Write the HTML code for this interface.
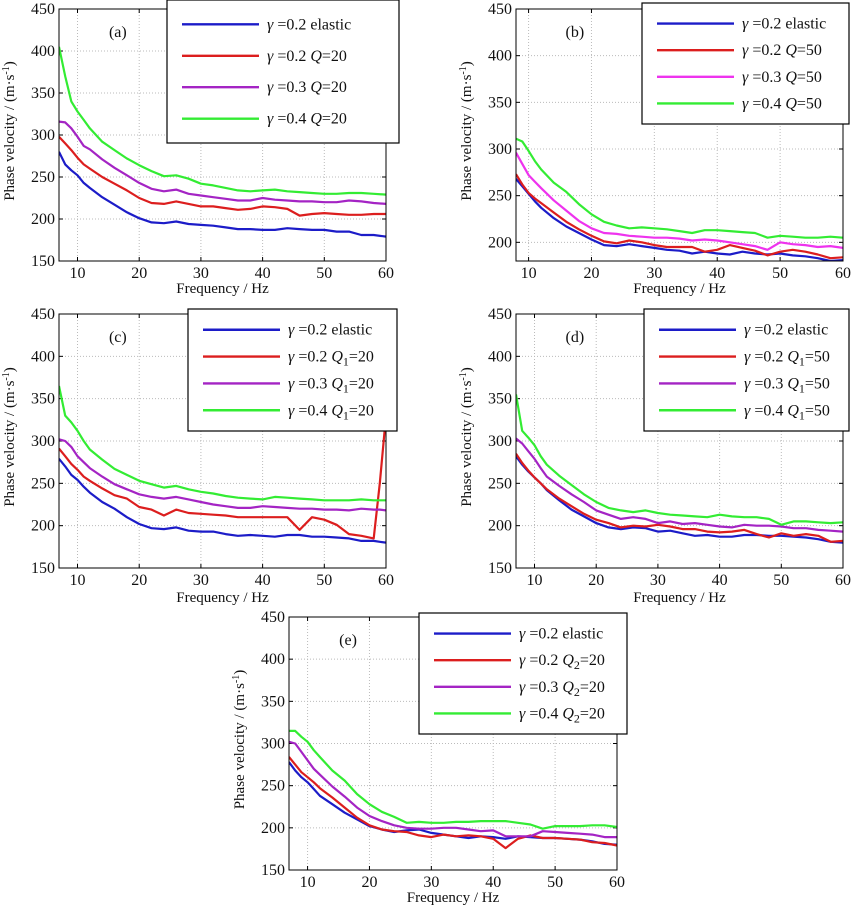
<!DOCTYPE html>
<html><head><meta charset="utf-8">
<style>
body{margin:0;background:#fff;width:854px;height:906px;overflow:hidden}
svg{display:block}
text{font-family:"Liberation Serif",serif;fill:#111}
</style></head>
<body>
<svg id="fig" width="854" height="906" xmlns="http://www.w3.org/2000/svg"></svg>
<script>
const NS="http://www.w3.org/2000/svg";
const freqA=[7,8,9,10,11,12,14,16,18,20,22,24,26,28,30,32,34,36,38,40,42,44,46,48,50,52,54,56,58,60];
const freqB=[8,9,10,11,12,14,16,18,20,22,24,26,28,30,32,34,36,38,40,42,44,46,48,50,52,54,56,58,60];
const freqC=[7,8,9,10,11,12,14,16,18,20,22,24,26,28,30,32,34,36,38,40,42,44,46,48,50,52,54,56,58,59,60];
const yTicksFull=[150,200,250,300,350,400,450];
const yTicksB=[200,250,300,350,400,450];
const xTicks=[10,20,30,40,50,60];
// panel a
const aElastic=[280,265,258,252,243,237,226,217,208,201,196,195,197,194,193,192,190,188,188,187,187,189,188,187,187,185,185,181,181,179];
const aQ20g2=[298,290,282,273,265,260,250,242,234,225,219,218,221,218,215,215,213,211,212,215,214,212,204,206,207,206,205,205,206,206];
const aQ20g3=[316,315,308,298,287,283,271,261,252,243,236,233,235,230,228,226,224,222,222,225,223,222,221,221,220,220,222,221,219,218];
const aQ20g4=[405,370,340,328,318,308,292,282,272,264,257,251,252,248,242,240,237,234,233,234,235,233,232,231,230,230,231,231,230,229];
// panel b
const bElastic=[268,260,252,244,237,226,217,210,203,197,196,198,196,194,192,191,188,190,188,187,190,188,187,188,186,185,183,180,181];
const bQ50g2=[273,262,253,247,242,232,222,214,207,201,199,202,200,197,195,195,195,190,192,197,194,191,186,190,192,190,187,183,184];
const bQ50g3=[296,284,272,265,258,245,234,223,215,210,209,207,206,205,205,204,202,203,202,200,198,196,192,200,198,197,195,196,194];
const bQ50g4=[311,308,298,287,278,264,254,241,230,222,218,215,216,215,214,212,210,213,213,212,211,210,205,207,206,205,205,206,205];
// panel c
const cElastic=[279,270,260,254,246,239,228,220,210,202,197,196,198,194,193,193,190,188,189,188,187,189,189,187,187,186,185,182,182,181,180];
const cQ20g2=[291,282,273,266,258,253,244,236,232,222,219,212,219,215,214,213,212,210,210,210,210,210,195,210,207,201,190,188,185,250,330];
const cQ20g3=[302,300,293,282,275,268,258,249,243,237,234,232,234,231,228,225,223,221,221,223,222,221,220,220,219,219,218,220,219,219,218];
const cQ20g4=[365,330,322,312,300,290,278,267,260,253,249,245,247,243,240,238,235,233,232,231,234,233,232,231,230,230,230,231,230,230,230];
// panel d
const dElastic=[282,272,264,257,250,242,230,219,211,203,198,196,198,197,193,194,191,188,189,187,187,189,189,188,188,187,186,184,181,180];
const dQ50g2=[285,274,265,257,250,243,232,223,214,207,203,198,200,199,201,199,196,196,193,192,193,195,190,186,191,188,190,188,181,182];
const dQ50g3=[303,297,288,279,268,258,247,237,228,218,213,208,210,208,203,205,202,203,201,199,198,201,200,200,199,197,197,195,194,193];
const dQ50g4=[355,312,304,295,282,272,259,248,237,228,221,218,216,218,215,213,212,211,210,213,211,210,210,208,201,205,205,204,203,204];
// panel e
const eElastic=[278,268,260,254,246,238,228,218,210,202,198,195,197,198,194,192,190,188,190,189,187,190,189,188,188,187,186,184,181,180];
const eQ20g2=[284,275,266,260,254,247,236,224,212,203,198,196,195,191,189,192,190,191,190,187,176,187,191,188,188,187,186,183,182,179];
const eQ20g3=[302,300,290,280,270,263,249,237,224,214,208,203,200,199,199,200,200,198,196,197,190,190,190,196,195,194,193,192,189,189];
const eQ20g4=[315,315,308,302,292,284,268,256,240,228,219,213,206,207,206,206,207,207,208,208,208,206,204,199,202,202,202,203,203,201];

const BLUE="#1c1cc8",RED="#dc1e1e",PUR="#a424c4",MAG="#ee33ee",GRN="#33ec33";
const panels=[
 {id:"a",L:59,R:386,T:9,B:261,xmin:7,ymin:150,yt:yTicksFull,freq:freqA,xlab:293,
  series:[aElastic,aQ20g2,aQ20g3,aQ20g4],cols:[BLUE,RED,PUR,GRN],
  leg:{x:167,y:0,w:232,h:143},labels:[["0.2 elastic"],["0.2 ","Q","","=20"],["0.3 ","Q","","=20"],["0.4 ","Q","","=20"]]},
 {id:"b",L:516,R:843,T:9,B:261,xmin:8,ymin:180,yt:yTicksB,freq:freqB,xlab:293,
  series:[bElastic,bQ50g2,bQ50g3,bQ50g4],cols:[BLUE,RED,MAG,GRN],
  leg:{x:642,y:3,w:207,h:121},labels:[["0.2 elastic"],["0.2 ","Q","","=50"],["0.3 ","Q","","=50"],["0.4 ","Q","","=50"]]},
 {id:"c",L:59,R:386,T:314,B:568,xmin:7,ymin:150,yt:yTicksFull,freq:freqC,xlab:602,
  series:[cElastic,cQ20g2,cQ20g3,cQ20g4],cols:[BLUE,RED,PUR,GRN],
  leg:{x:188,y:309,w:209,h:122},labels:[["0.2 elastic"],["0.2 ","Q","1","=20"],["0.3 ","Q","1","=20"],["0.4 ","Q","1","=20"]]},
 {id:"d",L:516,R:843,T:314,B:568,xmin:7,ymin:150,yt:yTicksFull,freq:freqA,xlab:602,
  series:[dElastic,dQ50g2,dQ50g3,dQ50g4],cols:[BLUE,RED,PUR,GRN],
  leg:{x:644,y:309,w:205,h:122},labels:[["0.2 elastic"],["0.2 ","Q","1","=50"],["0.3 ","Q","1","=50"],["0.4 ","Q","1","=50"]]},
 {id:"e",L:289,R:617,T:617,B:870,xmin:7,ymin:150,yt:yTicksFull,freq:freqA,xlab:902,
  series:[eElastic,eQ20g2,eQ20g3,eQ20g4],cols:[BLUE,RED,PUR,GRN],
  leg:{x:419,y:613,w:208,h:121},labels:[["0.2 elastic"],["0.2 ","Q","2","=20"],["0.3 ","Q","2","=20"],["0.4 ","Q","2","=20"]]}
];
const svg=document.getElementById("fig");
function mk(tag,attrs,parent){const e=document.createElementNS(NS,tag);for(const k in attrs)e.setAttribute(k,attrs[k]);(parent||svg).appendChild(e);return e;}
panels.forEach(p=>{
  const g=mk("g",{});
  
  
  const sx=v=>p.L+(v-p.xmin)/(60-p.xmin)*(p.R-p.L);
  const sy=v=>p.B-(v-p.ymin)/(450-p.ymin)*(p.B-p.T);
  const cid="clip"+p.id;
  const cp=mk("clipPath",{id:cid},g);mk("rect",{x:p.L,y:p.T,width:p.R-p.L,height:p.B-p.T},cp);
  xTicks.forEach(t=>{
    const x=sx(t);
    if(t<60){const gl=mk("line",{x1:x,x2:x,y1:p.T,y2:p.B,stroke:"#bbb","stroke-dasharray":"1,2","stroke-width":1},g);
    
    }
    mk("line",{x1:x,x2:x,y1:p.B,y2:p.B-4,stroke:"#000"},g);
    mk("line",{x1:x,x2:x,y1:p.T,y2:p.T+4,stroke:"#000"},g);
    const tl=mk("text",{x:x,y:p.B+17,"text-anchor":"middle","font-size":"16"},g);tl.textContent=t;
    
    
  });
  p.yt.forEach(t=>{
    const y=sy(t);
    if(t<450&&t>p.ymin){const gl=mk("line",{x1:p.L,x2:p.R,y1:y,y2:y,stroke:"#bbb","stroke-dasharray":"1,2","stroke-width":1},g);
    
    }
    mk("line",{x1:p.L,x2:p.L+4,y1:y,y2:y,stroke:"#000"},g);
    mk("line",{x1:p.R,x2:p.R-4,y1:y,y2:y,stroke:"#000"},g);
    const tl=mk("text",{x:p.L-4,y:y+5,"text-anchor":"end","font-size":"16"},g);tl.textContent=t;
    
    
  });
  p.series.forEach((s,i)=>{
    const d=s.map((v,j)=>(j?"L":"M")+sx(p.freq[j]).toFixed(1)+","+sy(v).toFixed(1)).join("");
    const pl=mk("path",{d:d,fill:"none",stroke:p.cols[i],"stroke-width":2.2,"clip-path":"url(#"+cid+")","stroke-linejoin":"round"},g);
    
    
  });
  const fr=mk("rect",{x:p.L,y:p.T,width:p.R-p.L,height:p.B-p.T,fill:"none",stroke:"#000","stroke-width":1},g);
  
  
  const pt=mk("text",{x:p.L+(p.R-p.L)*0.18,y:p.T+28,"font-size":"16","text-anchor":"middle"},g);pt.textContent="("+p.id+")";
  
  
  const xt=mk("text",{x:(p.L+p.R)/2,y:p.xlab,"text-anchor":"middle","font-size":"15"},g);xt.textContent="Frequency / Hz";
  
  
  const cy=(p.T+p.B)/2-4, cx=p.L-45;
  const yt=mk("text",{x:cx,y:cy,"text-anchor":"middle","font-size":"15",transform:"rotate(-90 "+cx+" "+cy+")"},g);
  yt.innerHTML='Phase velocity / (m·s<tspan dy="-5" font-size="10">-1</tspan><tspan dy="5">)</tspan>';
  
  
  const lg=mk("g",{},g);
  
  
  mk("rect",{x:p.leg.x,y:p.leg.y,width:p.leg.w,height:p.leg.h,fill:"#fff",stroke:"#000","stroke-width":1.2},lg);
  p.labels.forEach((lb,i)=>{
    const y=p.leg.y+p.leg.h*(0.17+0.22*i);
    const ln=mk("line",{x1:p.leg.x+15,x2:p.leg.x+92,y1:y,y2:y,stroke:p.cols[i],"stroke-width":2.4},lg);
    
    
    const t=mk("text",{x:p.leg.x+100,y:y+5,"font-size":"16"},lg);
    let h='<tspan font-style="italic">γ</tspan> =' + lb[0];
    if(lb.length>1){h+='<tspan font-style="italic">'+lb[1]+'</tspan>';
      if(lb[2])h+='<tspan font-size="12" dy="4">'+lb[2]+'</tspan><tspan dy="-4">'+lb[3]+'</tspan>';
      else h+=lb[3];}
    t.innerHTML=h;
    
    
  });
});
</script>
</body></html>
